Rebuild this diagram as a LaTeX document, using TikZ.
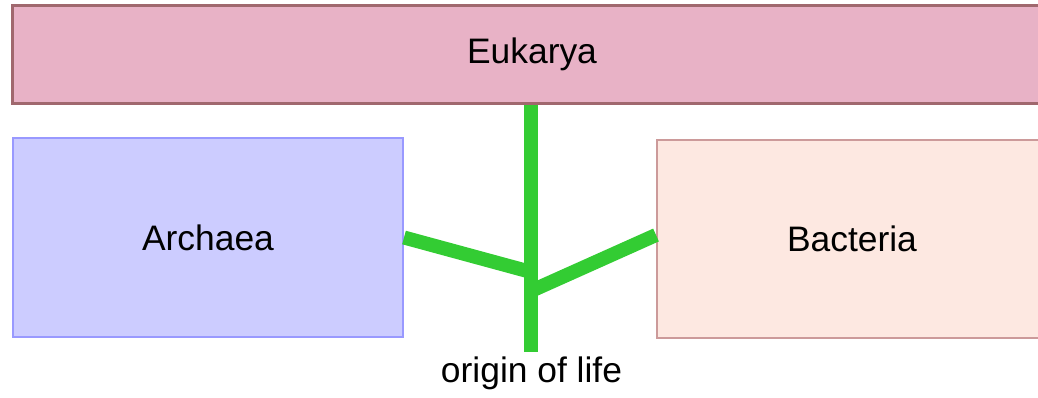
\documentclass[tikz,border=0pt]{standalone}
\usepackage{fontspec}
\setmainfont{Liberation Sans}
\usetikzlibrary{positioning}
\definecolor{eukfill}{HTML}{E8B2C6}
\definecolor{eukline}{HTML}{A0686E}
\definecolor{arcfill}{HTML}{CCCCFF}
\definecolor{arcline}{HTML}{9999FF}
\definecolor{bacfill}{HTML}{FDE8E1}
\definecolor{bacline}{HTML}{CC9A9A}
\definecolor{lifegreen}{HTML}{33CC33}
\tikzstyle{domainbox} = [rectangle, text centered, inner sep=0pt, font=\fontsize{17.7}{21}\selectfont]
\tikzstyle{branch} = [line width=7pt, draw=lifegreen]

\begin{document}
\begin{tikzpicture}[x=0.5pt, y=-0.5pt]
			\useasboundingbox (0,0) rectangle (1038,397);
			\clip (0,0) rectangle (1038,397);
			% Nodes
			\node (eukarya) [domainbox, fill=eukfill, draw=eukline, line width=1.5pt, minimum width=520pt, minimum height=49pt] at (532,54) {Eukarya};
			\node (archaea) [domainbox, fill=arcfill, draw=arcline, line width=1pt, minimum width=195pt, minimum height=99.5pt] at (208,237.5) {Archaea};
			\node (bacteria) [domainbox, fill=bacfill, draw=bacline, line width=1pt, minimum width=195pt, minimum height=99pt] at (852,239) {Bacteria};
			\node (origin) [domainbox, anchor=base] at (531.5,382) {origin of life};
			\coordinate (root) at (531,352);
			\coordinate (arcjoin) at (531,272);
			\coordinate (bacjoin) at (531,291);
			% Branches
			\draw [branch] (root) -- (eukarya.south -| root);
			\draw [branch] (archaea.east) -- (arcjoin);
			\draw [branch] ([yshift=2pt]bacteria.west) -- (bacjoin);
		\end{tikzpicture}
\end{document}
